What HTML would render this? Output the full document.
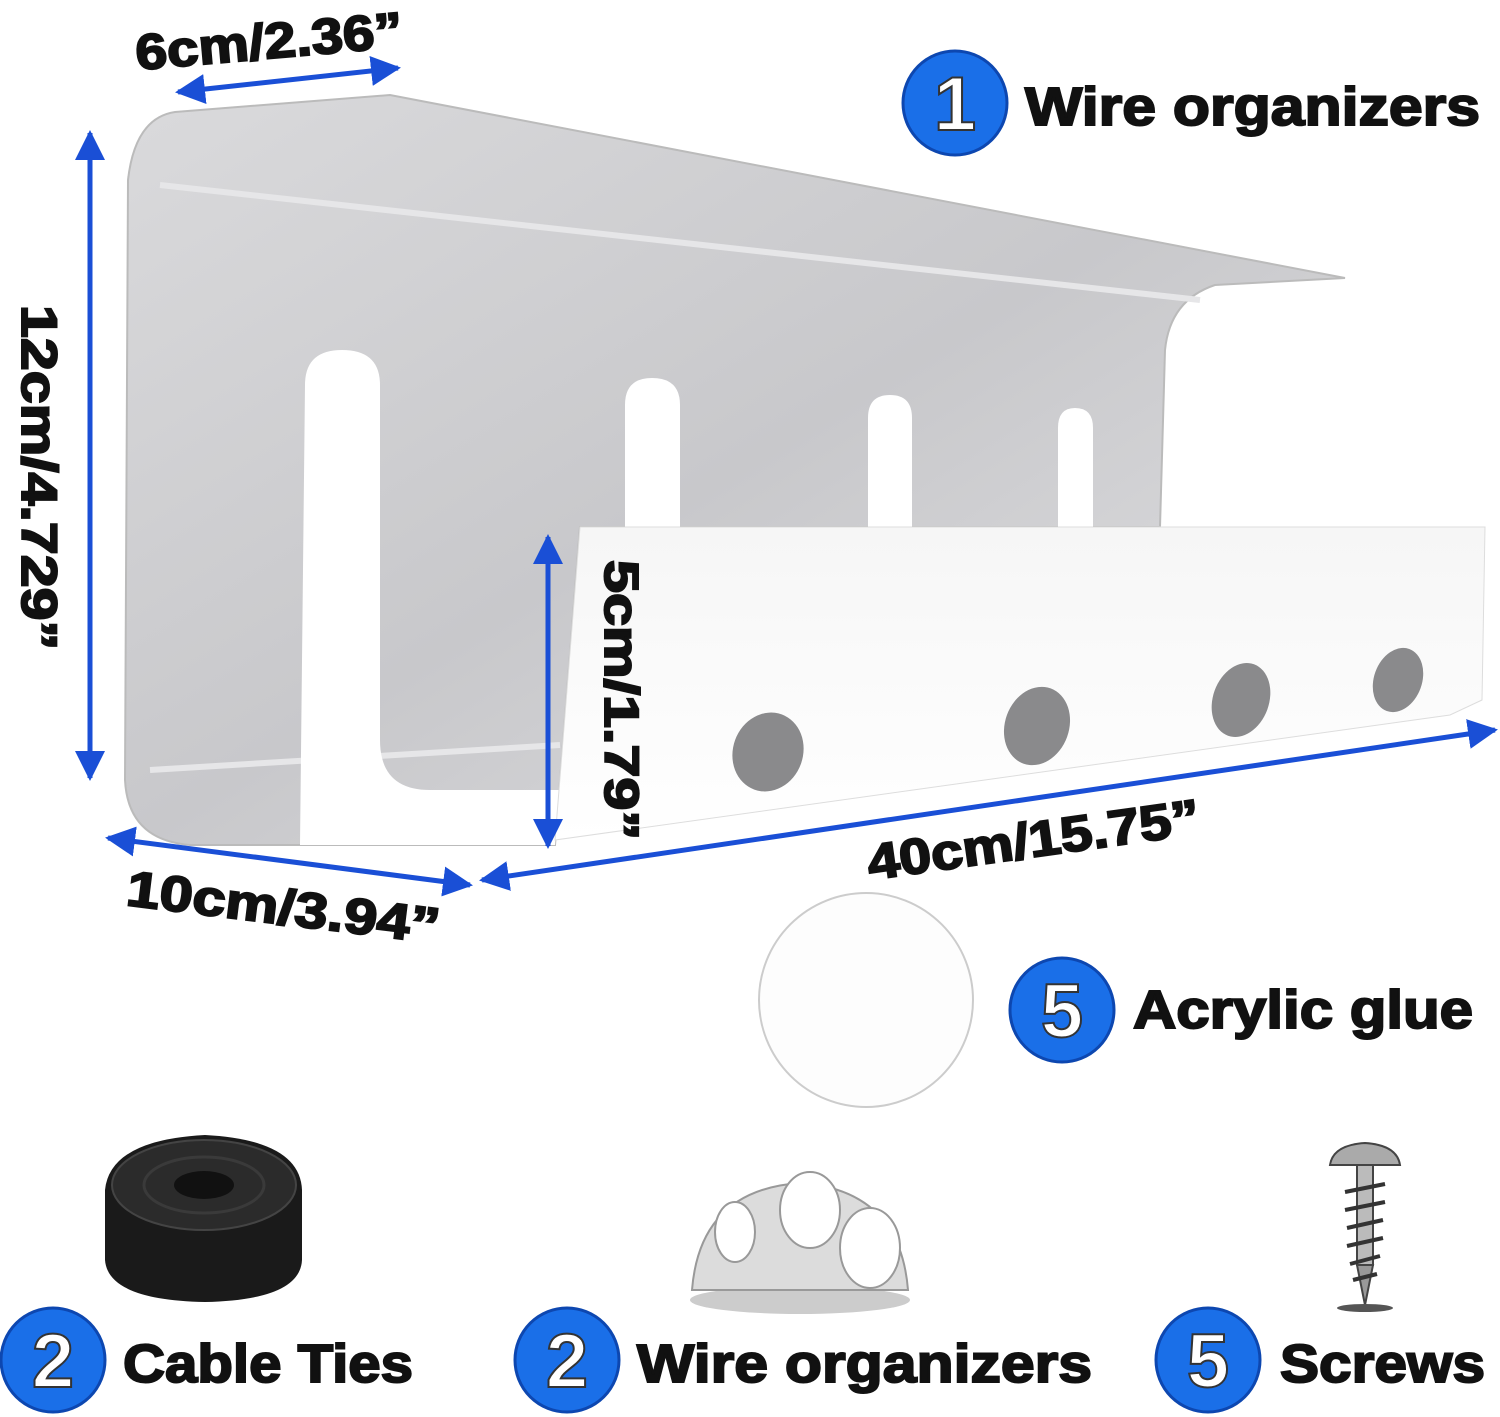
<!DOCTYPE html>
<html><head><style>
html,body{margin:0;padding:0;background:#fff;}
svg{display:block;}
.t{font-family:"Liberation Sans",sans-serif;font-weight:bold;fill:#111;stroke:#111;stroke-width:2px;}
.n{font-family:"Liberation Sans",sans-serif;font-weight:bold;fill:#fff;stroke:#333;stroke-width:2px;}
</style></head><body>
<svg width="1500" height="1417" viewBox="0 0 1500 1417" xmlns="http://www.w3.org/2000/svg">
<defs>
<linearGradient id="g1" x1="0" y1="0" x2="1" y2="1">
<stop offset="0" stop-color="#dadadc"/><stop offset="0.5" stop-color="#c8c8cb"/><stop offset="1" stop-color="#e2e2e4"/>
</linearGradient>
<linearGradient id="g2" x1="0" y1="0" x2="0" y2="1">
<stop offset="0" stop-color="#f6f6f6"/><stop offset="1" stop-color="#ffffff"/>
</linearGradient>
<marker id="ah" viewBox="0 0 10 10" refX="9" refY="5" markerWidth="6" markerHeight="6" orient="auto-start-reverse">
<path d="M0,0 L10,5 L0,10 z" fill="#1a4fd6"/></marker>
</defs>
<path d="M175,112 L390,95 L1345,278 L1215,285 Q1170,300 1165,350 L1160,527 L580,527 L555,845 L190,845 Q128,840 125,780 L128,180 Q135,118 175,112 Z" fill="url(#g1)" stroke="#bbb" stroke-width="2"/>
<path d="M160,185 L1200,300" stroke="#e6e6e8" stroke-width="6" fill="none"/>
<path d="M150,770 L560,745" stroke="#e6e6e8" stroke-width="6" fill="none"/>
<path d="M305,385 Q305,350 342,350 Q380,350 380,385 L380,740 Q380,790 430,790 L560,790 L555,845 L300,845 Z" fill="#fff"/>
<path d="M625,405 Q625,378 652,378 Q680,378 680,405 L680,527 L625,527 Z" fill="#fff"/>
<path d="M868,418 Q868,395 890,395 Q912,395 912,418 L912,527 L868,527 Z" fill="#fff"/>
<path d="M1058,428 Q1058,408 1075,408 Q1093,408 1093,428 L1093,527 L1058,527 Z" fill="#fff"/>
<path d="M580,527 L1485,527 L1482,700 L1450,715 L555,840 Z" fill="url(#g2)" stroke="#ddd" stroke-width="1"/>
<ellipse cx="768" cy="752" rx="35" ry="40" fill="#8a8a8c" transform="rotate(20 768 752)"/>
<ellipse cx="1037" cy="726" rx="32" ry="40" fill="#8a8a8c" transform="rotate(20 1037 726)"/>
<ellipse cx="1241" cy="700" rx="28" ry="38" fill="#8a8a8c" transform="rotate(20 1241 700)"/>
<ellipse cx="1398" cy="680" rx="24" ry="33" fill="#8a8a8c" transform="rotate(20 1398 680)"/>
<g stroke="#1a4fd6" stroke-width="5" fill="none" marker-start="url(#ah)" marker-end="url(#ah)">
<line x1="178" y1="92" x2="398" y2="68"/>
<line x1="90" y1="133" x2="90" y2="778"/>
<line x1="108" y1="838" x2="470" y2="885"/>
<line x1="548" y1="537" x2="548" y2="846"/>
<line x1="482" y1="880" x2="1495" y2="730"/>
</g>
<text class="t" font-size="50" textLength="268" lengthAdjust="spacingAndGlyphs" transform="translate(137,70) rotate(-5)">6cm/2.36”</text>
<text class="t" font-size="50" textLength="345" lengthAdjust="spacingAndGlyphs" transform="translate(22,305) rotate(90)">12cm/4.729”</text>
<text class="t" font-size="50" textLength="315" lengthAdjust="spacingAndGlyphs" transform="translate(125,905) rotate(7)">10cm/3.94”</text>
<text class="t" font-size="48" textLength="280" lengthAdjust="spacingAndGlyphs" transform="translate(605,560) rotate(90)">5cm/1.79”</text>
<text class="t" font-size="50" textLength="335" lengthAdjust="spacingAndGlyphs" transform="translate(870,880) rotate(-8)">40cm/15.75”</text>
<g>
<circle cx="955" cy="103" r="52" fill="#1a6fe8" stroke="#0d47b0" stroke-width="3"/>
<text class="n" x="955" y="130" font-size="76" text-anchor="middle">1</text>
<text class="t" x="1025" y="125" font-size="54" textLength="455" lengthAdjust="spacingAndGlyphs">Wire organizers</text>
<circle cx="1062" cy="1010" r="52" fill="#1a6fe8" stroke="#0d47b0" stroke-width="3"/>
<text class="n" x="1062" y="1037" font-size="76" text-anchor="middle">5</text>
<text class="t" x="1133" y="1028" font-size="54" textLength="340" lengthAdjust="spacingAndGlyphs">Acrylic glue</text>
<circle cx="53" cy="1360" r="52" fill="#1a6fe8" stroke="#0d47b0" stroke-width="3"/>
<text class="n" x="53" y="1387" font-size="76" text-anchor="middle">2</text>
<text class="t" x="123" y="1382" font-size="54" textLength="290" lengthAdjust="spacingAndGlyphs">Cable Ties</text>
<circle cx="567" cy="1360" r="52" fill="#1a6fe8" stroke="#0d47b0" stroke-width="3"/>
<text class="n" x="567" y="1387" font-size="76" text-anchor="middle">2</text>
<text class="t" x="637" y="1382" font-size="54" textLength="455" lengthAdjust="spacingAndGlyphs">Wire organizers</text>
<circle cx="1208" cy="1360" r="52" fill="#1a6fe8" stroke="#0d47b0" stroke-width="3"/>
<text class="n" x="1208" y="1387" font-size="76" text-anchor="middle">5</text>
<text class="t" x="1280" y="1382" font-size="54" textLength="205" lengthAdjust="spacingAndGlyphs">Screws</text>
</g>
<circle cx="866" cy="1000" r="107" fill="#fdfdfd" stroke="#ccc" stroke-width="2"/>
<path d="M105,1190 Q110,1140 205,1135 Q300,1140 302,1190 L302,1260 Q300,1300 205,1302 Q108,1300 105,1260 Z" fill="#1a1a1a"/>
<ellipse cx="204" cy="1185" rx="92" ry="45" fill="#2b2b2b" stroke="#444" stroke-width="2"/>
<ellipse cx="204" cy="1185" rx="60" ry="28" fill="none" stroke="#3a3a3a" stroke-width="3"/>
<ellipse cx="204" cy="1185" rx="30" ry="14" fill="#111"/>
<ellipse cx="800" cy="1300" rx="110" ry="14" fill="#ccc"/>
<path d="M692,1290 Q700,1190 800,1183 Q900,1190 908,1290 Z" fill="#dcdcdc" stroke="#999" stroke-width="2"/>
<ellipse cx="810" cy="1210" rx="30" ry="38" fill="#fff" stroke="#999" stroke-width="2"/>
<ellipse cx="870" cy="1248" rx="30" ry="40" fill="#fff" stroke="#999" stroke-width="2"/>
<ellipse cx="735" cy="1232" rx="20" ry="30" fill="#fff" stroke="#999" stroke-width="2"/>
<path d="M1330,1165 Q1333,1145 1365,1143 Q1397,1145 1400,1165 Z" fill="#aaa" stroke="#444" stroke-width="2"/>
<rect x="1357" y="1165" width="16" height="100" fill="#bbb" stroke="#444" stroke-width="2"/>
<path d="M1357,1265 L1365,1305 L1373,1265 Z" fill="#999" stroke="#444" stroke-width="2"/>
<g stroke="#333" stroke-width="4" fill="none">
<path d="M1345,1192 L1385,1184"/><path d="M1345,1210 L1385,1202"/><path d="M1347,1228 L1383,1220"/>
<path d="M1347,1246 L1383,1238"/><path d="M1350,1264 L1380,1256"/><path d="M1353,1280 L1377,1274"/>
</g>
<ellipse cx="1365" cy="1308" rx="28" ry="4" fill="#555"/>
</svg>
</body></html>
